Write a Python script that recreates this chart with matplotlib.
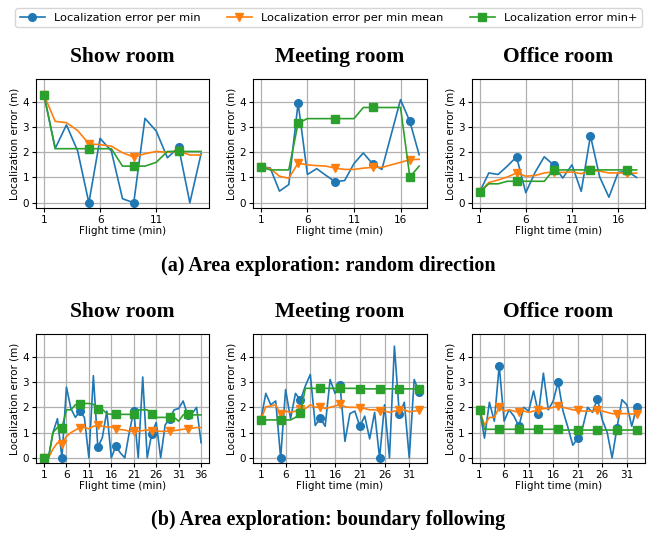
import matplotlib
matplotlib.use("Agg")
from matplotlib import pyplot as plt

# values, one list per series
rd_show_err = [4.27, 2.15, 3.08, 2.05, 0.0, 2.55, 2.05, 0.16, 0.0, 3.34, 2.84, 1.78, 2.2, 0.0, 1.94]
rd_show_mean = [4.27, 3.22, 3.17, 2.86, 2.33, 2.3, 2.24, 1.98, 1.81, 1.94, 2.03, 2.0, 2.05, 1.89, 1.89]
rd_show_minp = [4.27, 2.14, 2.14, 2.14, 2.14, 2.14, 2.14, 1.45, 1.45, 1.45, 1.6, 2.03, 2.03, 2.03, 2.03]

rd_meet_err = [1.42, 1.38, 0.46, 0.72, 3.95, 1.12, 1.35, 1.08, 0.83, 0.88, 1.55, 1.97, 1.54, 1.32,
               2.7, 4.08, 3.22, 1.9]
rd_meet_mean = [1.42, 1.35, 1.05, 0.97, 1.57, 1.5, 1.47, 1.45, 1.37, 1.32, 1.32, 1.37, 1.4, 1.4,
                1.5, 1.6, 1.7, 1.72]
rd_meet_minp = [1.42, 1.3, 1.3, 1.3, 3.15, 3.33, 3.33, 3.33, 3.33, 3.33, 3.33, 3.77, 3.77, 3.77,
                3.77, 3.77, 1.02, 1.45]

rd_office_err = [0.42, 1.18, 1.12, 1.45, 1.82, 0.4, 1.2, 1.82, 1.5, 0.98, 1.5, 0.45, 2.65, 1.02,
                 0.22, 1.2, 1.25, 1.0]
rd_office_mean = [0.42, 0.8, 0.9, 1.02, 1.18, 1.05, 1.08, 1.18, 1.22, 1.2, 1.22, 1.15, 1.28, 1.25,
                  1.18, 1.18, 1.17, 1.17]
rd_office_minp = [0.42, 0.75, 0.75, 0.85, 0.85, 0.85, 0.85, 0.85, 1.3, 1.3, 1.3, 1.3, 1.3, 1.3,
                  1.3, 1.3, 1.3, 1.3]

bf_show_err = [0.0, 0.0, 1.0, 1.55, 0.0, 2.8, 1.95, 1.6, 1.85, 1.6, 0.0, 3.25, 0.42, 0.8, 1.85,
               0.0, 0.45, 0.2, 0.0, 1.0, 1.87, 0.0, 3.2, 0.0, 0.95, 1.4, 0.0, 1.3, 1.55, 1.9,
               1.95, 2.25, 1.7, 1.75, 2.0, 0.6]
bf_show_mean = [0.0, 0.0, 0.35, 0.6, 0.55, 0.85, 1.0, 1.1, 1.2, 1.2, 1.15, 1.25, 1.28, 1.25, 1.22,
                1.22, 1.15, 1.12, 1.1, 1.05, 1.05, 1.05, 1.08, 1.1, 1.07, 1.07, 1.05, 1.05, 1.05,
                1.08, 1.1, 1.13, 1.15, 1.17, 1.2, 1.2]
bf_show_minp = [0.0, 0.0, 1.0, 1.2, 1.2, 1.9, 1.9, 2.1, 2.15, 2.15, 2.15, 2.12, 1.92, 1.92, 1.75,
                1.72, 1.72, 1.72, 1.72, 1.72, 1.72, 1.9, 1.9, 1.9, 1.75, 1.6, 1.6, 1.6, 1.6, 1.6,
                1.45, 1.7, 1.75, 1.7, 1.7, 1.7]

bf_meet_err = [1.5, 2.55, 2.1, 2.25, 0.0, 2.7, 1.55, 2.55, 2.28, 2.85, 3.3, 1.28, 1.58, 1.25, 3.1,
               2.55, 2.9, 0.65, 1.75, 1.85, 1.25, 1.65, 0.75, 1.8, 0.0, 2.1, 0.0, 4.42, 1.72, 2.2,
               0.0, 3.1, 2.6]
bf_meet_mean = [1.5, 2.02, 2.05, 2.1, 1.72, 1.85, 1.8, 1.85, 1.95, 1.95, 2.1, 2.0, 2.02, 1.95, 2.0,
                2.05, 2.12, 2.02, 2.0, 2.0, 1.98, 1.95, 1.9, 1.9, 1.85, 1.85, 1.8, 1.85, 1.88, 1.9,
                1.82, 1.85, 1.88]
bf_meet_minp = [1.5, 1.5, 1.5, 1.5, 1.5, 1.5, 1.5, 1.6, 1.78, 2.75, 2.75, 2.75, 2.75, 2.75, 2.75,
                2.75, 2.75, 2.75, 2.75, 2.75, 2.73, 2.73, 2.73, 2.73, 2.73, 2.73, 2.73, 2.73, 2.73,
                2.73, 2.73, 2.73, 2.73]

bf_office_err = [1.9, 0.78, 2.2, 1.45, 3.65, 1.45, 1.9, 1.65, 1.25, 2.0, 1.85, 2.65, 1.75, 3.35,
                 1.9, 2.25, 3.0, 1.85, 1.2, 0.5, 0.78, 1.2, 2.0, 1.8, 2.33, 1.5, 1.0, 0.0, 1.2,
                 2.3, 2.1, 1.25, 2.0]
bf_office_mean = [1.9, 1.3, 1.6, 1.6, 2.0, 1.85, 1.9, 1.85, 1.8, 1.85, 1.8, 1.85, 1.9, 1.95, 1.95,
                  2.0, 2.05, 2.0, 1.95, 1.9, 1.88, 1.85, 1.85, 1.85, 1.88, 1.85, 1.8, 1.75, 1.73,
                  1.75, 1.75, 1.73, 1.75]
bf_office_minp = [1.9, 1.13, 1.13, 1.13, 1.13, 1.13, 1.13, 1.13, 1.13, 1.13, 1.13, 1.13, 1.13,
                  1.13, 1.13, 1.13, 1.13, 1.1, 1.1, 1.1, 1.1, 1.1, 1.1, 1.1, 1.1, 1.1, 1.1, 1.1,
                  1.1, 1.1, 1.1, 1.1, 1.1]

rooms = ["Show room", "Meeting room", "Office room"]
series_names = ["Localization error per min", "Localization error per min mean",
                "Localization error min+"]
captions = ["(a) Area exploration: random direction", "(b) Area exploration: boundary following"]

rows = [
    [(rd_show_err, rd_show_mean, rd_show_minp),
     (rd_meet_err, rd_meet_mean, rd_meet_minp),
     (rd_office_err, rd_office_mean, rd_office_minp)],
    [(bf_show_err, bf_show_mean, bf_show_minp),
     (bf_meet_err, bf_meet_mean, bf_meet_minp),
     (bf_office_err, bf_office_mean, bf_office_minp)],
]

SERIF = "Liberation Serif"
LABEL_SIZE = 7.5

fig = plt.figure(figsize=(6.57, 5.37), dpi=100)

lefts = [0.055, 0.385, 0.718]
widths = [0.263, 0.265, 0.263]
bottoms = [0.613, 0.138]
height = 0.240

styles = [("tab:blue", "o"), ("tab:orange", "v"), ("tab:green", "s")]

handles = None
for r, row in enumerate(rows):
    for c, series in enumerate(row):
        ax = fig.add_axes([lefts[c], bottoms[r], widths[c], height])
        n = len(series[0])
        x = list(range(1, n + 1))
        lines = []
        for values, name, (color, marker) in zip(series, series_names, styles):
            line, = ax.plot(x, values, color=color, marker=marker, markevery=4,
                            markersize=5.5, linewidth=1.2, label=name)
            lines.append(line)
        if handles is None:
            handles = lines
        ax.set_ylim(-0.2, 4.9)
        ax.set_yticks([0, 1, 2, 3, 4])
        ax.set_xticks(list(range(1, n + 1, 5)))
        ax.grid(True, color="#b0b0b0", linewidth=0.9)
        ax.tick_params(labelsize=LABEL_SIZE, length=3, pad=2)
        ax.set_xlabel("Flight time (min)", fontsize=LABEL_SIZE, labelpad=1)
        ax.set_ylabel("Localization error (m)", fontsize=LABEL_SIZE, labelpad=2)
        ax.set_title(rooms[c], family=SERIF, fontweight="bold", fontsize=15.5, pad=12)

fig.text(0.5, 0.505, captions[0], ha="center", va="center",
         family=SERIF, fontweight="bold", fontsize=14.5)
fig.text(0.5, 0.032, captions[1], ha="center", va="center",
         family=SERIF, fontweight="bold", fontsize=14.5)

fig.legend(handles=handles, loc="upper center", bbox_to_anchor=(0.5, 0.995), ncol=3,
           fontsize=8.2, frameon=True, handlelength=2.2, columnspacing=2.3,
           borderpad=0.4)

fig.savefig("out.png", dpi=100)
